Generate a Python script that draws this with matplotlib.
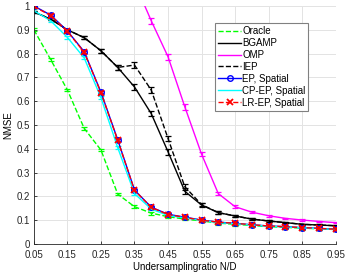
import numpy as np
import matplotlib.pyplot as plt
from matplotlib.lines import Line2D

plt.rcParams['font.family'] = ['Liberation Sans', 'DejaVu Sans']

# undersampling ratios
ratio = [0.05, 0.10, 0.15, 0.20, 0.25, 0.30, 0.35, 0.40, 0.45, 0.50,
         0.55, 0.60, 0.65, 0.70, 0.75, 0.80, 0.85, 0.90, 0.95]

# NMSE values
oracle = [0.900, 0.775, 0.647, 0.486, 0.395, 0.210, 0.157, 0.130, 0.115, 0.105,
          0.097, 0.088, 0.083, 0.078, 0.073, 0.070, 0.067, 0.064, 0.061]
bgamp = [0.975, 0.945, 0.900, 0.867, 0.812, 0.742, 0.660, 0.548, 0.388, 0.222,
         0.164, 0.132, 0.118, 0.105, 0.097, 0.090, 0.083, 0.080, 0.077]
omp = [np.nan, np.nan, np.nan, np.nan, np.nan, np.nan, 1.10, 0.938, 0.787, 0.577,
       0.378, 0.212, 0.157, 0.134, 0.119, 0.108, 0.101, 0.095, 0.090]
iep = [0.975, 0.945, 0.900, 0.867, 0.812, 0.742, 0.752, 0.647, 0.444, 0.241,
       0.166, 0.132, 0.118, 0.105, 0.097, 0.090, 0.083, 0.080, 0.077]
ep = [1.000, 0.962, 0.895, 0.808, 0.638, 0.438, 0.227, 0.155, 0.125, 0.113,
      0.101, 0.092, 0.087, 0.081, 0.076, 0.073, 0.069, 0.066, 0.062]
cpep = [0.980, 0.938, 0.868, 0.782, 0.615, 0.405, 0.212, 0.147, 0.120, 0.110,
        0.099, 0.090, 0.085, 0.080, 0.075, 0.072, 0.068, 0.065, 0.061]
lrep = [0.998, 0.960, 0.893, 0.806, 0.636, 0.436, 0.226, 0.154, 0.124, 0.112,
        0.100, 0.092, 0.087, 0.081, 0.076, 0.073, 0.069, 0.066, 0.062]

# error bar half-widths
err_small = [0.006] * len(ratio)
err_mid = [0.004, 0.004, 0.005, 0.006, 0.008, 0.010, 0.012, 0.012, 0.012, 0.012,
           0.008, 0.006, 0.005, 0.004, 0.004, 0.003, 0.003, 0.003, 0.003]

fig = plt.figure(figsize=(3.46, 2.73), dpi=100)
ax = fig.add_axes([0.098, 0.106, 0.872, 0.872])

eb = dict(elinewidth=0.9, capsize=2.2, capthick=0.9, lw=1.0)
ax.errorbar(ratio, oracle, yerr=err_small, color='#00ff00', ls='--', **eb)
ax.errorbar(ratio, bgamp, yerr=err_mid, color='black', ls='-', **eb)
ax.errorbar(ratio, omp, yerr=err_mid, color='#ff00ff', ls='-', **eb)
ax.errorbar(ratio, iep, yerr=err_mid, color='black', ls='--', **eb)
ax.errorbar(ratio, ep, yerr=err_small, color='#0000ff', ls='-', marker='o',
            ms=4, mfc='none', mew=1.0, **eb)
ax.errorbar(ratio, cpep, yerr=err_small, color='#00ffff', ls='-', **eb)
ax.errorbar(ratio, lrep, yerr=err_small, color='#ff0000', ls='--', marker='x',
            ms=4, mew=1.3, **eb)

handles = [
    Line2D([], [], color='#00ff00', ls='--', lw=1.0),
    Line2D([], [], color='black', ls='-', lw=1.0),
    Line2D([], [], color='#ff00ff', ls='-', lw=1.0),
    Line2D([], [], color='black', ls='--', lw=1.0),
    Line2D([], [], color='#0000ff', ls='-', lw=1.0, marker='o', ms=4, mfc='none', mew=1.0),
    Line2D([], [], color='#00ffff', ls='-', lw=1.0),
    Line2D([], [], color='#ff0000', ls='--', lw=1.0, marker='x', ms=4, mew=1.3),
]
labels = ['Oracle', 'BGAMP', 'OMP', 'IEP', 'EP, Spatial', 'CP-EP, Spatial', 'LR-EP, Spatial']

ax.set_xlim(0.05, 0.95)
ax.set_ylim(0, 1)
ax.set_xticks(np.arange(0.05, 0.96, 0.1))
ax.set_xticklabels(['0.05', '0.15', '0.25', '0.35', '0.45', '0.55', '0.65', '0.75', '0.85', '0.95'])
ax.set_yticks(np.arange(0, 1.01, 0.1))
ax.set_yticklabels(['0', '0.1', '0.2', '0.3', '0.4', '0.5', '0.6', '0.7', '0.8', '0.9', '1'])
ax.tick_params(labelsize=7, direction='in', length=2.5, width=0.6, colors='#262626')
ax.tick_params(axis='x', pad=4)
ax.tick_params(axis='y', pad=3)
ax.grid(True, color='#e3e3e3', lw=0.7)
ax.set_axisbelow(True)
for s in ['top', 'right']:
    ax.spines[s].set_visible(False)
for s in ['left', 'bottom']:
    ax.spines[s].set_color('#262626')
    ax.spines[s].set_linewidth(0.6)

ax.set_xlabel('Undersamplingratio N/D', fontsize=7, labelpad=2)
ax.set_ylabel('NMSE', fontsize=7, labelpad=2)

leg = ax.legend(handles, labels, loc='upper left', bbox_to_anchor=(0.6, 0.928), fontsize=7,
                handlelength=2.4, handletextpad=0.1, labelspacing=0.2,
                borderpad=0.3, borderaxespad=0, fancybox=False, framealpha=1)
leg.get_frame().set_edgecolor('#808080')
leg.get_frame().set_linewidth(0.8)

fig.savefig('out.png', dpi=100)
